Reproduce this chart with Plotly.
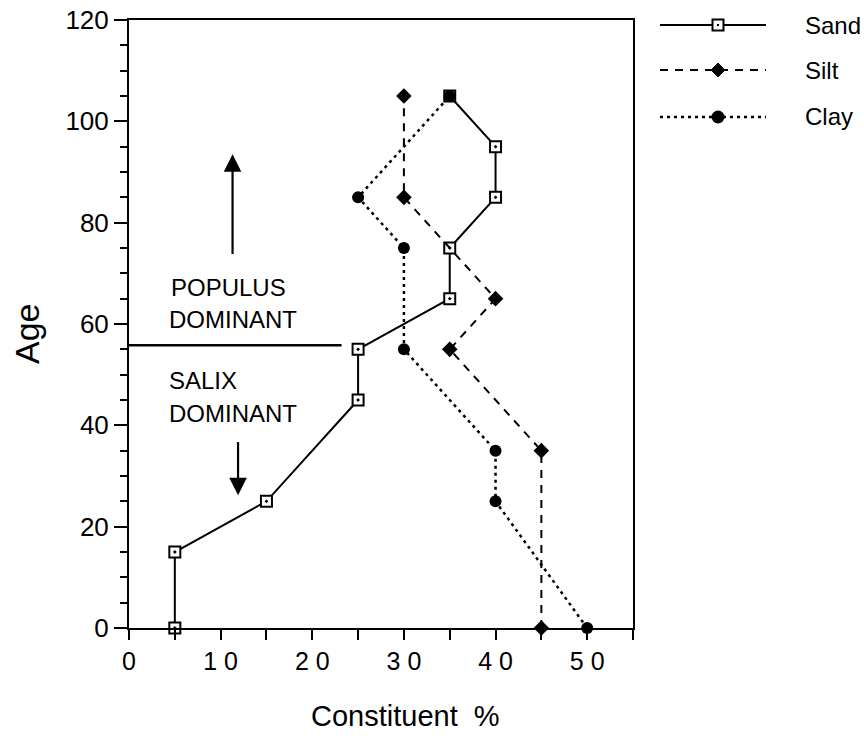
import plotly.graph_objects as go

# ---- data ----
sand_pct = [5, 5, 15, 25, 25, 35, 35, 40, 40, 35]
sand_age = [0, 15, 25, 45, 55, 65, 75, 85, 95, 105]
silt_pct = [45, 45, 35, 40, 30, 30]
silt_age = [0, 35, 55, 65, 85, 105]
clay_pct = [50, 40, 40, 30, 30, 25, 35]
clay_age = [0, 25, 35, 55, 75, 85, 105]
x_ticks = [0, 10, 20, 30, 40, 50]
x_ticktext = ["0", "1 0", "2 0", "3 0", "4 0", "5 0"]
y_ticks = [0, 20, 40, 60, 80, 100, 120]
boundary_age = 55.8

FONT = "Liberation Sans, Arial, sans-serif"
L, R, T, B = 129, 231, 20, 108
W, H = 864, 736
PW, PH = W - L - R, H - T - B


def px(x):
    return (x - L) / PW


def py(y):
    return (H - B - y) / PH


fig = go.Figure()
fig.add_trace(go.Scatter(x=sand_pct, y=sand_age, mode="lines+markers", name="Sand",
                         line=dict(color="black", width=2),
                         marker=dict(symbol="square-dot", size=11, color="white",
                                     line=dict(color="black", width=2)),
                         cliponaxis=False))
fig.add_trace(go.Scatter(x=silt_pct, y=silt_age, mode="lines+markers", name="Silt",
                         line=dict(color="black", width=2, dash="8px,7px"),
                         marker=dict(symbol="diamond", size=12, color="black"),
                         cliponaxis=False))
fig.add_trace(go.Scatter(x=clay_pct, y=clay_age, mode="lines+markers", name="Clay",
                         line=dict(color="black", width=2.5, dash="3px,4px"),
                         marker=dict(symbol="circle", size=12, color="black"),
                         cliponaxis=False))

# boundary line
fig.add_shape(type="line", xref="x", yref="y", x0=0, x1=23.2, y0=boundary_age, y1=boundary_age,
              line=dict(color="black", width=2.5))

# texts
txt = dict(xref="x", yref="y", showarrow=False, xanchor="left", yanchor="middle",
           font=dict(family=FONT, size=24, color="black"))
fig.add_annotation(x=4.4, y=67.3, text="POPULUS", **txt)
fig.add_annotation(x=4.2, y=60.8, text="DOMINANT", **txt)
fig.add_annotation(x=4.1, y=48.9, text="SALIX", **txt)
fig.add_annotation(x=4.2, y=42.4, text="DOMINANT", **txt)

# arrows
arr = dict(xref="x", yref="y", axref="x", ayref="y", text="", showarrow=True,
           arrowhead=2, arrowsize=1.6, arrowwidth=2.2, arrowcolor="black")
fig.add_annotation(x=11.3, y=93.5, ax=11.3, ay=73.5, **arr)
fig.add_annotation(x=11.9, y=26.2, ax=11.9, ay=37.0, **arr)

# y-axis title as annotation (placed like the reference)
fig.add_annotation(xref="paper", yref="paper", x=px(27), y=py(334), text="Age", textangle=-90,
                   showarrow=False, xanchor="center", yanchor="middle",
                   font=dict(family=FONT, size=34, color="black"))
# x-axis title
fig.add_annotation(xref="paper", yref="paper", x=px(405), y=py(716), text="Constituent\u00a0\u00a0%",
                   showarrow=False, xanchor="center", yanchor="middle",
                   font=dict(family=FONT, size=29, color="black"))

# custom legend in right margin
rows = [("Sand", 25, "solid", 2), ("Silt", 70, "8px,7px", 2), ("Clay", 117, "3px,4px", 2.5)]
for name, yy, dash, w in rows:
    fig.add_shape(type="line", xref="paper", yref="paper", x0=px(660), x1=px(766),
                  y0=py(yy), y1=py(yy), line=dict(color="black", width=w, dash=dash))
    fig.add_annotation(xref="paper", yref="paper", x=px(803), y=py(yy), text=name,
                       showarrow=False, xanchor="left", yanchor="middle",
                       font=dict(family=FONT, size=24, color="black"))
# legend markers
cx = px(718)
fig.add_shape(type="rect", xref="paper", yref="paper", xsizemode="pixel", ysizemode="pixel",
              xanchor=cx, yanchor=py(25), x0=-5.5, x1=5.5, y0=-5.5, y1=5.5,
              fillcolor="white", line=dict(color="black", width=2))
fig.add_shape(type="rect", xref="paper", yref="paper", xsizemode="pixel", ysizemode="pixel",
              xanchor=cx, yanchor=py(25), x0=-1, x1=1, y0=-1, y1=1,
              fillcolor="black", line=dict(color="black", width=0))
fig.add_shape(type="path", xref="paper", yref="paper", xsizemode="pixel", ysizemode="pixel",
              xanchor=cx, yanchor=py(70), path="M -7 0 L 0 7 L 7 0 L 0 -7 Z",
              fillcolor="black", line=dict(color="black", width=1))
fig.add_shape(type="circle", xref="paper", yref="paper", xsizemode="pixel", ysizemode="pixel",
              xanchor=cx, yanchor=py(117), x0=-6.5, x1=6.5, y0=-6.5, y1=6.5,
              fillcolor="black", line=dict(color="black", width=0))

fig.update_layout(
    width=W, height=H,
    margin=dict(l=L, r=R, t=T, b=B),
    paper_bgcolor="white", plot_bgcolor="white",
    showlegend=False,
    font=dict(family=FONT, color="black"),
    xaxis=dict(range=[0, 55], tickvals=x_ticks, ticktext=x_ticktext, automargin=False,
               showgrid=False, zeroline=False, showline=True, linecolor="black", linewidth=2,
               mirror=True, ticks="outside", ticklen=10, tickwidth=2, tickcolor="black",
               minor=dict(dtick=5, tick0=0, ticks="outside", ticklen=10, tickwidth=2, tickcolor="black"),
               tickfont=dict(size=25, family=FONT)),
    yaxis=dict(range=[0, 120], tickvals=y_ticks, automargin=False,
               showgrid=False, zeroline=False, showline=True, linecolor="black", linewidth=2,
               mirror=True, ticks="outside", ticklen=13, tickwidth=2, tickcolor="black",
               minor=dict(dtick=5, tick0=0, ticks="outside", ticklen=7, tickwidth=2, tickcolor="black"),
               tickfont=dict(size=26, family=FONT)),
)

fig.write_html("out.html")
